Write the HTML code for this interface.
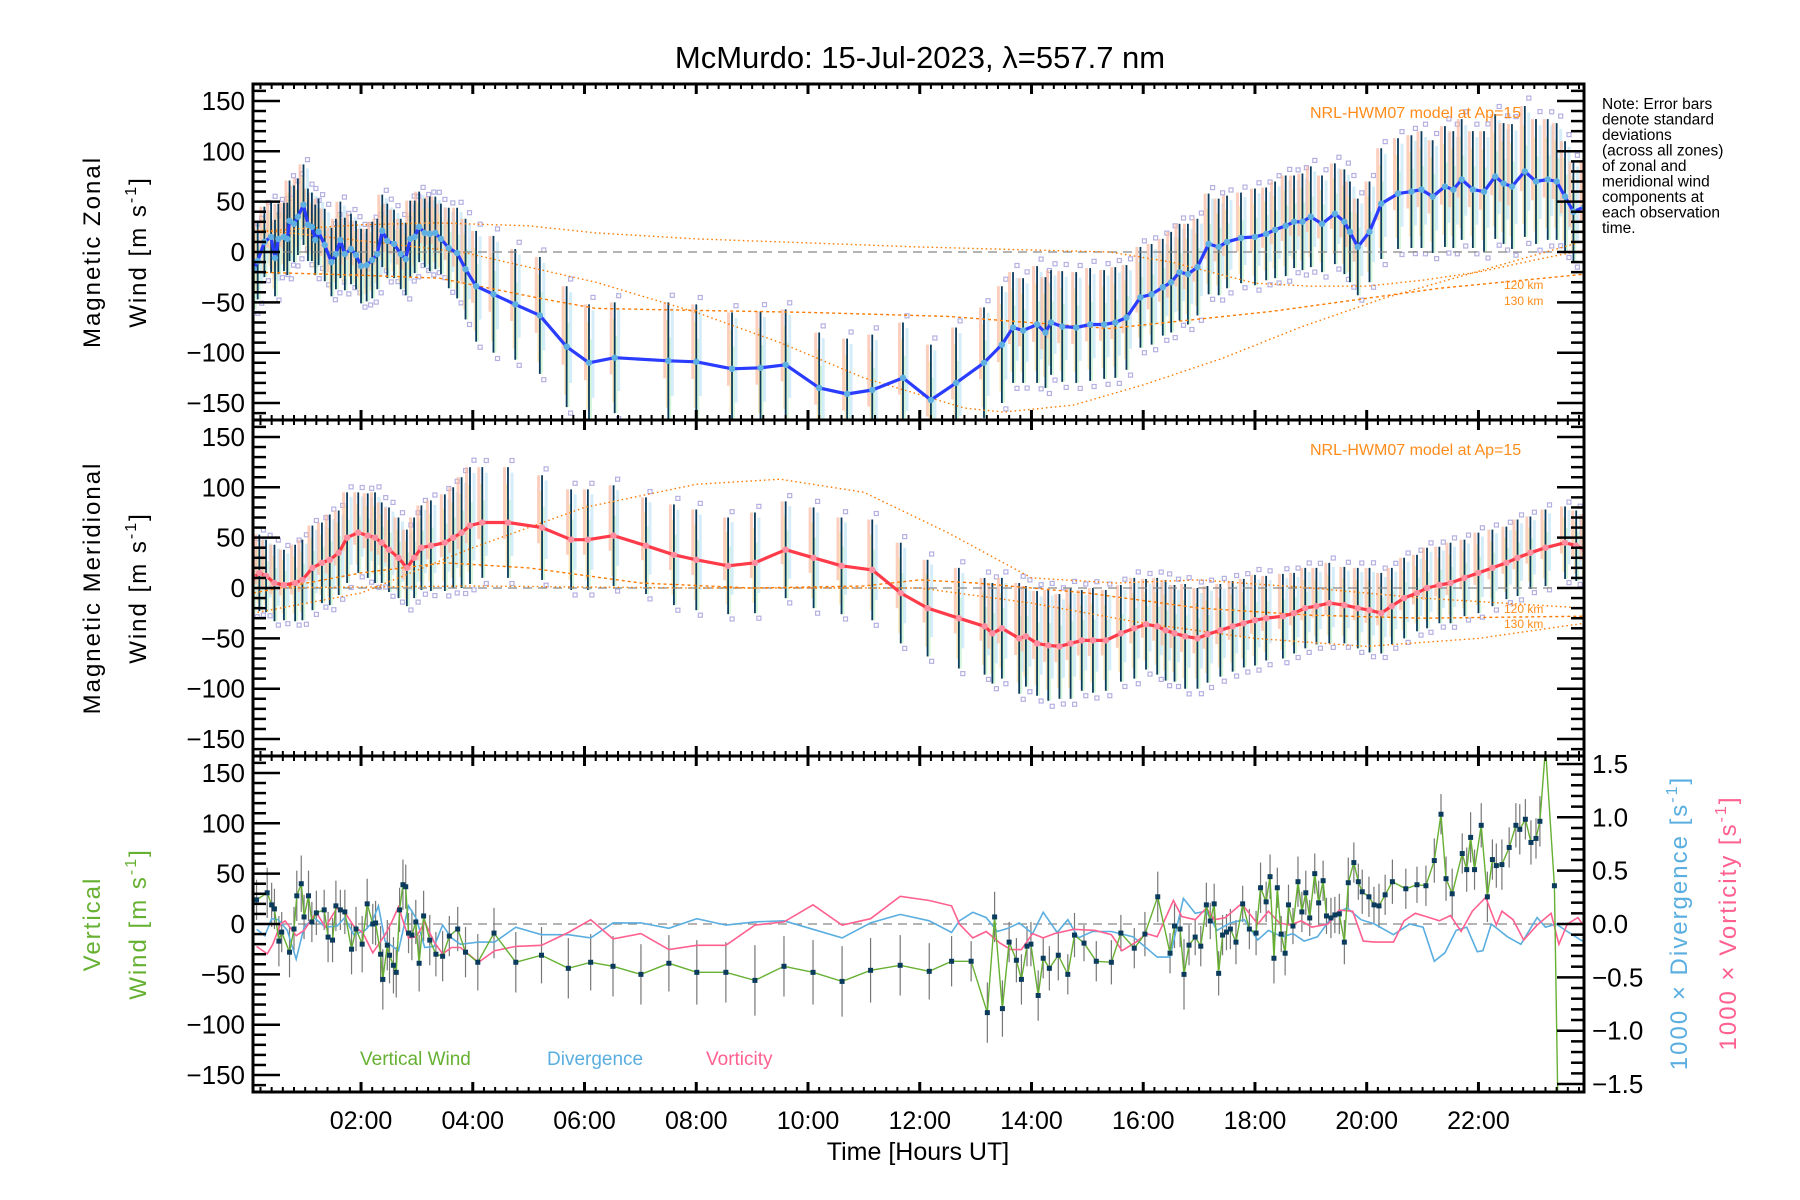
<!DOCTYPE html>
<html><head><meta charset="utf-8"><style>
html,body{margin:0;padding:0;background:#fff;}
svg{display:block;font-family:"Liberation Sans",sans-serif;}
</style></head><body>
<svg id="chart" width="1800" height="1200" viewBox="0 0 1800 1200" xmlns="http://www.w3.org/2000/svg">
<defs>
<clipPath id="c1"><rect x="253" y="84" width="1331" height="336"/></clipPath>
<clipPath id="c2"><rect x="253" y="420" width="1331" height="336"/></clipPath>
<clipPath id="c3"><rect x="253" y="756" width="1331" height="336"/></clipPath>
</defs>
<text x="920" y="68" text-anchor="middle" font-size="31">McMurdo: 15-Jul-2023, λ=557.7 nm</text>
<g id="p1" clip-path="url(#c1)"></g>
<g id="p2" clip-path="url(#c2)"></g>
<g id="p3" clip-path="url(#c3)"></g>
<g id="axes"></g>
<text transform="translate(100,252) rotate(-90)" text-anchor="middle" font-size="24" letter-spacing="2">Magnetic Zonal</text>
<text transform="translate(146,252) rotate(-90)" text-anchor="middle" font-size="24" letter-spacing="2">Wind [m s<tspan font-size="16" dy="-10">-1</tspan><tspan dy="10">]</tspan></text>
<text transform="translate(100,588) rotate(-90)" text-anchor="middle" font-size="24" letter-spacing="2">Magnetic Meridional</text>
<text transform="translate(146,588) rotate(-90)" text-anchor="middle" font-size="24" letter-spacing="2">Wind [m s<tspan font-size="16" dy="-10">-1</tspan><tspan dy="10">]</tspan></text>
<text transform="translate(100,924) rotate(-90)" text-anchor="middle" font-size="24" letter-spacing="2" fill="#66b032">Vertical</text>
<text transform="translate(146,924) rotate(-90)" text-anchor="middle" font-size="24" letter-spacing="2" fill="#66b032">Wind [m s<tspan font-size="16" dy="-10">-1</tspan><tspan dy="10">]</tspan></text>
<text transform="translate(1687,923) rotate(-90)" text-anchor="middle" font-size="24" letter-spacing="2" fill="#5aaee0">1000 × Divergence [s<tspan font-size="16" dy="-10">-1</tspan><tspan dy="10">]</tspan></text>
<text transform="translate(1736,923) rotate(-90)" text-anchor="middle" font-size="24" letter-spacing="2" fill="#ff6090">1000 × Vorticity [s<tspan font-size="16" dy="-10">-1</tspan><tspan dy="10">]</tspan></text>
<text x="918" y="1160" text-anchor="middle" font-size="25">Time [Hours UT]</text>
<g font-size="15.5">
<text x="1602" y="109">Note: Error bars</text><text x="1602" y="124.5">denote standard</text><text x="1602" y="140">deviations</text><text x="1602" y="155.5">(across all zones)</text><text x="1602" y="171">of zonal and</text><text x="1602" y="186.5">meridional wind</text><text x="1602" y="202">components at</text><text x="1602" y="217.5">each observation</text><text x="1602" y="233">time.</text>
</g>
<text x="1310" y="118" font-size="16" fill="#ff8c1a">NRL-HWM07 model at Ap=15</text>
<text x="1310" y="455" font-size="16" fill="#ff8c1a">NRL-HWM07 model at Ap=15</text>
<text x="1504" y="289" font-size="12" fill="#ff8c1a">120 km</text>
<text x="1504" y="305" font-size="12" fill="#ff8c1a">130 km</text>
<text x="1504" y="613" font-size="12" fill="#ff8c1a">120 km</text>
<text x="1504" y="628" font-size="12" fill="#ff8c1a">130 km</text>
<text x="360" y="1065" font-size="19" fill="#66b032">Vertical Wind</text>
<text x="547" y="1065" font-size="19" fill="#5aaee0">Divergence</text>
<text x="706" y="1065" font-size="19" fill="#ff6090">Vorticity</text>
</svg>
<script>
const zonalT=[0.08,0.15,0.27,0.39,0.46,0.52,0.62,0.68,0.72,0.8,0.87,0.97,1.05,1.12,1.18,1.24,1.35,1.47,1.55,1.63,1.71,1.82,1.91,2.0,2.1,2.2,2.29,2.38,2.47,2.59,2.71,2.8,2.88,2.96,3.04,3.14,3.23,3.33,3.43,3.57,3.72,3.87,4.06,4.37,4.76,5.2,5.68,6.08,
6.54,7.5,8.0,8.64,9.15,9.6,10.2,10.7,11.15,11.7,12.2,12.65,13.15,13.47,13.67,13.85,14.1,14.25,14.35,14.55,14.8,15.05,15.3,15.5,15.7,15.95,16.15,16.35,16.5,16.65,16.8,16.97,17.17,17.35,17.5,17.75,18.0,18.2,18.36,18.55,18.7,18.85,19.0,19.2,19.43,19.6,19.7,19.84,20.05,20.26,20.56,20.8,20.98,21.18,21.4,21.55,21.7,21.9,22.1,22.3,22.45,22.6,22.83,23.03,23.24,23.4,23.55,23.7,23.9];
const zonalV=[-17,-9,10,15,-6,13,15,13,31,28,35,47,27,25,12,20,7,-10,-2,12,-2,3,-3,-14,-13,-8,-2,21,11,8,-2,-7,13,15,25,19,18,19,13,4,-1,-17,-34,-42,-52,-63,-94,-110,
-105,-108,-109,-116,-115,-112,-135,-141,-137,-125,-147,-130,-110,-92,-75,-78,-72,-80,-70,-74,-75,-72,-72,-70,-65,-45,-42,-35,-30,-20,-22,-15,8,5,10,14,15,18,22,26,30,30,35,28,38,30,20,5,20,48,58,60,62,55,65,62,72,62,60,75,68,65,80,70,72,70,55,40,45];
const zonalSd=[40,38,35,36,38,35,34,36,40,38,38,40,36,34,35,33,36,34,35,38,36,35,34,37,36,38,35,36,37,34,35,36,38,36,35,34,37,36,35,40,45,50,55,58,55,58,60,58,
55,58,57,56,56,55,55,55,55,55,55,55,55,58,55,52,58,55,52,55,55,56,54,55,52,50,50,48,50,48,50,48,50,48,46,45,48,46,48,50,46,48,50,48,50,52,50,48,50,55,55,56,58,56,60,58,60,58,60,62,60,62,65,62,60,58,55,50,45];
const merT=[0.07,0.18,0.3,0.45,0.62,0.82,0.95,1.13,1.3,1.44,1.6,1.75,1.95,2.12,2.25,2.37,2.5,2.67,2.82,2.95,3.08,3.25,3.5,3.65,3.8,3.95,4.17,4.63,5.24,5.76,6.06,6.52,7.1,7.6,8.0,8.57,9.05,9.6,10.1,10.6,11.15,11.66,12.14,12.7,13.16,13.3,13.47,13.78,13.9,14.1,14.3,14.5,14.7,14.9,15.1,15.33,15.6,15.84,16.05,16.25,16.4,16.56,16.75,16.97,17.15,17.38,17.6,17.8,18.0,18.2,18.5,18.7,18.9,19.1,19.33,19.6,19.84,20.05,20.26,20.45,20.67,20.9,21.08,21.3,21.5,21.75,22.0,22.25,22.5,22.7,22.93,23.2,23.55,23.75,23.9];
const merV=[10,15,12,5,3,5,8,20,25,28,35,50,55,52,50,45,38,30,20,30,40,42,45,50,55,62,65,65,60,48,48,52,42,33,28,22,25,38,30,22,18,-5,-20,-30,-38,-45,-40,-50,-48,-55,-57,-58,-55,-52,-52,-52,-45,-40,-36,-38,-42,-45,-48,-50,-46,-42,-38,-35,-32,-30,-28,-25,-20,-18,-15,-17,-20,-22,-25,-18,-10,-5,0,3,5,10,15,20,25,30,35,40,45,42,38];
const merSd=[35,38,36,38,35,38,40,42,40,45,42,45,40,42,45,40,42,40,38,40,42,45,48,50,55,58,55,55,52,50,50,50,48,50,50,48,50,48,50,48,50,50,48,50,48,50,50,55,50,52,55,52,55,50,52,50,48,50,45,48,50,48,52,50,48,46,45,44,45,42,42,40,40,38,40,38,40,42,40,38,40,38,40,38,40,38,40,38,36,38,36,38,36,35,35];
const vertT=[0.13,0.32,0.4,0.45,0.53,0.58,0.72,0.8,0.85,0.93,0.98,1.06,1.12,1.2,1.34,1.41,1.49,1.55,1.63,1.71,1.83,1.91,2.02,2.11,2.21,2.26,2.35,2.39,2.47,2.51,2.58,2.63,2.69,2.75,2.8,2.85,2.91,2.98,3.04,3.12,3.23,3.34,3.46,3.58,3.73,3.87,4.09,4.38,4.77,5.23,5.71,6.11,6.51,7.01,7.51,8.01,8.53,9.05,9.57,10.09,10.61,11.12,11.65,12.17,12.57,
12.92,13.21,13.34,13.48,13.6,13.73,13.82,13.92,13.99,14.12,14.21,14.32,14.48,14.65,14.77,14.94,15.16,15.43,15.6,15.84,16.03,16.26,16.48,16.56,16.66,16.73,16.82,16.93,17.03,17.13,17.2,17.27,17.35,17.42,17.49,17.56,17.66,17.78,17.9,18.02,18.1,18.2,18.27,18.34,18.4,18.47,18.54,18.6,18.68,18.77,18.84,18.91,18.98,19.07,19.14,19.22,19.28,19.36,19.43,19.51,19.6,19.67,19.77,19.85,19.92,20.04,20.13,20.22,20.33,20.46,20.7,20.9,21.06,21.21,21.33,21.42,21.53,21.71,21.79,21.86,21.93,22.05,22.16,22.25,22.32,22.42,22.55,22.67,22.74,22.84,22.94,23.03,23.1,23.2,23.36,23.42];
const vertV=[24,31,19,15,-17,-8,-28,-5,28,40,7,28,2,11,14,-13,-16,18,14,12,-25,-5,-20,20,0,1,-30,-55,-21,-31,-41,-48,14,39,37,-9,-11,2,-39,8,-16,-30,-32,-12,-5,-28,-38,-9,-38,-31,-44,-38,-42,-50,-39,-48,-48,-56,-42,-48,-57,-46,-41,-47,-37,
-37,-88,7,-84,-18,-36,-55,-22,-20,-71,-34,-44,-31,-50,-11,-19,-37,-38,-9,-24,-10,27,-29,-2,-5,-50,-21,-13,-22,19,3,20,-49,-11,-8,-5,-18,20,-5,-9,36,22,47,-34,36,-10,-29,19,-2,42,12,31,6,50,21,43,8,6,9,10,-18,41,61,42,32,27,19,18,29,42,35,39,38,63,109,45,30,70,54,86,54,98,27,64,58,59,76,98,94,104,81,85,102,175,38,-175];
const vertSd=[20,25,22,20,25,20,25,22,25,28,22,25,20,22,20,25,22,25,20,22,25,22,28,25,20,22,28,30,25,28,28,25,22,25,22,20,25,22,28,25,25,22,25,20,22,25,28,25,30,28,30,28,30,30,28,32,30,35,30,32,35,32,30,28,25,
20,30,25,28,20,22,25,20,22,25,20,22,25,20,22,18,20,22,18,20,22,25,20,22,18,35,20,18,20,22,18,20,22,20,18,20,22,18,20,22,25,20,22,25,20,18,22,20,18,25,20,22,18,20,22,20,18,20,18,20,22,25,20,18,22,20,18,22,20,22,20,18,20,22,20,22,25,20,22,25,20,22,25,20,22,25,20,22,25,20,22,20,25,0,0,0];
const vortT=[0.13,0.32,0.42,0.56,0.64,0.84,0.98,1.2,1.36,1.57,1.71,1.87,2.03,2.21,2.43,2.55,2.67,2.85,2.99,3.14,3.31,3.46,3.62,3.78,4.1,4.39,4.77,5.23,5.71,6.11,6.51,7.01,7.51,8.01,8.53,9.05,9.57,10.09,10.61,11.12,11.65,12.17,12.57,12.71,12.95,13.19,13.44,13.63,13.82,14.02,14.21,14.41,14.75,15.14,15.43,15.62,15.87,16.06,16.25,16.54,16.69,16.93,17.13,17.27,17.47,17.76,18.05,18.24,18.44,18.63,18.83,19.02,19.31,19.51,19.75,19.94,20.14,20.48,20.67,20.87,21.06,21.3,21.5,21.69,21.89,22.13,22.32,22.42,22.62,22.81,23.05,23.3,23.44,23.59,23.78,23.86];
const vortV=[-0.21,-0.28,-0.19,0,0.03,-0.11,-0.06,0.11,-0.03,0.15,0.11,-0.02,-0.08,-0.27,-0.1,0.02,0.16,-0.13,-0.12,0.02,-0.17,-0.28,-0.22,-0.22,-0.36,-0.25,-0.21,-0.2,-0.08,0.04,-0.14,-0.09,-0.24,-0.2,-0.2,-0.01,0.02,0.18,-0.01,0.05,0.26,0.22,0.17,0,-0.13,-0.07,-0.18,-0.24,-0.24,-0.09,-0.13,-0.09,-0.05,-0.06,-0.1,-0.25,-0.17,-0.09,-0.12,0.22,0.07,0.04,0.15,0.04,0.06,0.19,0,0.12,0.01,-0.01,0.03,-0.03,0,0.13,0.12,-0.16,-0.17,-0.17,0.03,0.1,0.07,0.03,0.08,-0.07,0.12,0.25,-0.01,0.12,0.04,-0.15,-0.01,0.1,-0.19,0,0.06,0];
const divT=[0.13,0.28,0.4,0.52,0.68,0.84,0.98,1.16,1.36,1.57,1.71,1.87,2.07,2.19,2.31,2.43,2.67,2.85,2.99,3.14,3.31,3.46,3.62,3.78,4.1,4.39,4.77,5.23,5.71,6.11,6.51,7.01,7.51,8.01,8.53,9.05,9.57,10.09,10.61,11.12,11.65,12.17,12.57,12.71,12.95,13.19,13.39,13.58,13.78,14.02,14.21,14.46,14.65,14.84,15.09,15.43,15.82,16.25,16.48,16.72,16.93,17.13,17.32,17.56,17.81,18.05,18.24,18.49,18.68,18.88,19.12,19.41,19.65,19.9,20.14,20.48,20.77,21.01,21.21,21.4,21.6,21.79,21.98,22.08,22.23,22.52,22.76,23.05,23.2,23.39,23.59,23.86];
const divV=[-0.05,-0.11,0.05,0.04,-0.06,-0.33,-0.03,0.06,-0.03,-0.02,0.06,-0.1,-0.06,0.01,0.17,-0.16,-0.25,0.17,0.05,-0.22,-0.21,-0.01,-0.13,-0.19,-0.17,-0.17,-0.03,-0.1,-0.1,-0.13,0.01,0.01,-0.04,0.05,-0.01,0.02,0.03,-0.05,-0.13,0.01,0.09,0.03,-0.08,0.03,0.11,0.06,-0.07,-0.04,0.01,-0.09,0.11,-0.08,0.04,-0.13,-0.07,-0.07,-0.12,-0.31,-0.31,0.24,0.1,0.12,-0.06,0.01,0.04,-0.15,-0.06,-0.12,-0.09,-0.16,-0.12,0.09,0.15,0.04,0,-0.1,0,-0.03,-0.35,-0.27,-0.06,-0.03,-0.26,-0.25,0,-0.12,-0.19,0.06,-0.03,0,-0.07,-0.16];
const zmAT=[0.07,0.87,2,3.3,5,6.2,8,10,12,14,15.4,16.5,18,19,20,21,22,23,23.9];
const zmAV=[20,23,27,29,26,19,13,9,5,2,0,-10,-31,-34,-34,-28,-20,-8,2];
const zmBT=[0.07,2,3.4,5.2,6.2,8,10,12.5,15.4,18.3,21.3,23.9];
const zmBV=[-20,-23,-26,-46,-56,-58,-60,-64,-76,-59,-36,-22];
const zmCT=[0.07,0.9,2.5,3.8,5,6.2,8,9.5,11,12.8,13.5,14.75,16,17.4,18.8,20.3,22.2,23.9];
const zmCV=[22,18,8,0,-15,-30,-60,-90,-125,-155,-159,-152,-132,-106,-75,-46,-16,11];
const mmAT=[0.07,2,4,6,8,9.5,11,12.5,14,15.5,17,19,21,23.9];
const mmAV=[-25,-5,40,80,103,108,95,55,10,5,8,0,-10,-20];
const mmBT=[0.07,2,3.5,5,7,9,11,12,13,15,17,19,21,23.9];
const mmBV=[-5,15,25,20,5,0,2,8,5,-5,-20,-27,-30,-28];
const mmCT=[0.07,4,8,12,14,16,18,20,22,23.9];
const mmCV=[0,2,0,0,-15,-35,-50,-58,-50,-35];
const xTickLabels=["02:00","04:00","06:00","08:00","10:00","12:00","14:00","16:00","18:00","20:00","22:00"];
const yTickVals=[-150,-100,-50,0,50,100,150];
const rTickVals=[-1.5,-1.0,-0.5,0.0,0.5,1.0,1.5];

const NS="http://www.w3.org/2000/svg";
const XL=253, XR=1584;
const X=h=>249.3+55.87*h;
const Y1=v=>252-v*1.007, Y2=v=>588-v*1.007, Y3=v=>924-v*1.007, R3=r=>924-r*106.7;
function mk(parent,tag,attrs){const e=document.createElementNS(NS,tag);for(const k in attrs)e.setAttribute(k,attrs[k]);parent.appendChild(e);return e;}
const p1=document.getElementById('p1'),p2=document.getElementById('p2'),p3=document.getElementById('p3'),ax=document.getElementById('axes');
function pts(T,V,xf,yf){return T.map((t,i)=>xf(t).toFixed(1)+','+yf(V[i]).toFixed(1)).join(' ');}

function windPanel(g,T,V,S,Y,name){
  const pastel=['#f9b9a3','#fbe0a2','#c6f3cf','#c2e6f6'];
  const offs=[[-0.3,1.0],[-0.8,0.7],[-1.0,0.4],[-0.6,0.9]];
  T.forEach((t,i)=>{
    const x=X(t),m=V[i],s=S[i];
    pastel.forEach((c,k)=>{
      const r=mk(g,'rect',{x:(x-5+k*2.5).toFixed(1),y:Y(m+s*offs[k][1]).toFixed(1),width:3,height:(s*(offs[k][1]-offs[k][0])*1.007).toFixed(1),fill:c,opacity:0.7});
      
      
    });
    [1.12,-1.1].forEach(f=>{
      const q=mk(g,'rect',{x:(x+2).toFixed(1),y:(Y(m+s*f)-2).toFixed(1),width:4,height:4,fill:'none',stroke:'#b4b0e2','stroke-width':1.2});
      
      
    });
  });
  T.forEach((t,i)=>{
    const l=mk(g,'line',{x1:X(t),x2:X(t),y1:Y(V[i]+S[i]),y2:Y(V[i]-S[i]),stroke:'#0b3b5c','stroke-width':1.8});
    
    
  });
}
function modelLine(g,T,V,Y,dash,name){
  const p=mk(g,'polyline',{points:pts(T,V,X,Y),fill:'none',stroke:'#ff7a00','stroke-width':1.4,'stroke-dasharray':dash});
  
  
}
function meanLine(g,T,V,Y,col,dot,name){
  const p=mk(g,'polyline',{points:pts(T,V,X,Y),fill:'none',stroke:col,'stroke-width':3.2,'stroke-linejoin':'round'});
  
  
  T.forEach((t,i)=>{
    const c=mk(g,'circle',{cx:X(t),cy:Y(V[i]),r:3.2,fill:dot});
    
    
  });
}
function zeroLine(g,y,name){
  const l=mk(g,'line',{x1:XL,x2:XR,y1:y,y2:y,stroke:'#888','stroke-width':1.3,'stroke-dasharray':'9,6'});
  
  
}
windPanel(p1,zonalT,zonalV,zonalSd,Y1,'zonal');
zeroLine(p1,Y1(0),'zonal-zero-line');
modelLine(p1,zmAT,zmAV,Y1,'1.5,3','zonal-model-120km');
modelLine(p1,zmBT,zmBV,Y1,'3,3','zonal-model-130km');
modelLine(p1,zmCT,zmCV,Y1,'1.5,3','zonal-model-upper');
meanLine(p1,zonalT,zonalV,Y1,'#2a3cff','#5fb0e0','zonal');
windPanel(p2,merT,merV,merSd,Y2,'meridional');
zeroLine(p2,Y2(0),'meridional-zero-line');
modelLine(p2,mmAT,mmAV,Y2,'1.5,3','meridional-model-upper');
modelLine(p2,mmBT,mmBV,Y2,'3,3','meridional-model-130km');
modelLine(p2,mmCT,mmCV,Y2,'1.5,3','meridional-model-120km');
meanLine(p2,merT,merV,Y2,'#ff3b4a','#ff8fa0','meridional');
zeroLine(p3,Y3(0),'vertical-zero-line');
vertT.forEach((t,i)=>{
  if(vertSd[i]>0){
    const l=mk(p3,'line',{x1:X(t),x2:X(t),y1:Y3(vertV[i]+vertSd[i]),y2:Y3(vertV[i]-vertSd[i]),stroke:'#777','stroke-width':1.2});
    
    
  }
});
(function(){
  const d=mk(p3,'polyline',{points:pts(divT,divV,X,R3),fill:'none',stroke:'#5aaee0','stroke-width':1.6});
  
  
  const v=mk(p3,'polyline',{points:pts(vortT,vortV,X,R3),fill:'none',stroke:'#ff6090','stroke-width':1.6});
  
  
  const w=mk(p3,'polyline',{points:pts(vertT,vertV,X,Y3),fill:'none',stroke:'#66b032','stroke-width':1.4});
  
  
  vertT.forEach((t,i)=>{
    if(Math.abs(vertV[i])<160){
      const s=mk(p3,'rect',{x:X(t)-2.5,y:Y3(vertV[i])-2.5,width:5,height:5,fill:'#0b3b5c'});
      
      
    }
  });
})();
[[84,420,Y1,'zonal'],[420,756,Y2,'meridional'],[756,1092,Y3,'vertical']].forEach(([top,bot,Y,nm],pi)=>{
  const fr=mk(ax,'rect',{x:XL,y:top,width:XR-XL,height:bot-top,fill:'none',stroke:'#000','stroke-width':3});
  
  
  for(let v=-160;v<=160;v+=10){
    const y=Y(v); if(y<top+1||y>bot-1)continue;
    const major=v%50===0;
    const L=major?27:13;
    const t1=mk(ax,'line',{x1:XL,x2:XL+L,y1:y,y2:y,stroke:'#000','stroke-width':2.5});
    
    
    if(pi<2){
      const t2=mk(ax,'line',{x1:XR,x2:XR-L,y1:y,y2:y,stroke:'#000','stroke-width':2.5});
      
      
    }
  }
  yTickVals.forEach(v=>{
    const tx=mk(ax,'text',{x:245,y:Y(v)+9,'text-anchor':'end','font-size':26});
    tx.textContent=(v<0?'\u2212'+(-v):String(v));
    
    
  });
  for(let m=0;m<=24*5;m++){
    const h=m/5, x=X(h); if(x<XL+2||x>XR-2)continue;
    const major=m%10===0, L=major?10:5;
    [[top,top+L],[bot,bot-L]].forEach(([a,b])=>{
      const t=mk(ax,'line',{x1:x,x2:x,y1:a,y2:b,stroke:'#000','stroke-width':major?3:2});
      
      
    });
  }
});
for(let k=-16;k<=16;k++){
  const r=k/10, y=R3(r); if(y<757||y>1091)continue;
  const major=Math.abs(k)%5===0;
  const t=mk(ax,'line',{x1:XR,x2:XR-(major?27:13),y1:y,y2:y,stroke:'#000','stroke-width':2.5});
  
  
}
rTickVals.forEach(r=>{
  const tx=mk(ax,'text',{x:1592,y:R3(r)+9,'font-size':26});
  tx.textContent=(r<0?'\u2212'+(-r).toFixed(1):r.toFixed(1));
  
  
});
xTickLabels.forEach((s,i)=>{
  const tx=mk(ax,'text',{x:X(2+2*i),y:1129,'text-anchor':'middle','font-size':25});
  tx.textContent=s;
  
  
});
</script>
</body></html>
